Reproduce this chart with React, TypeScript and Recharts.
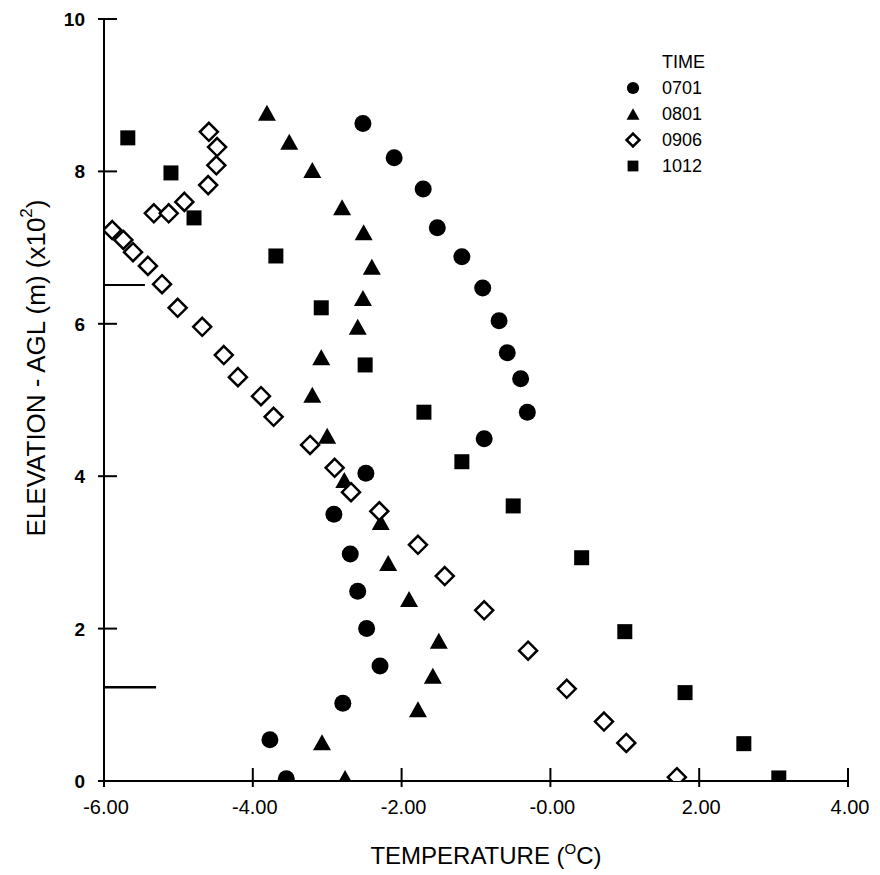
import {
  Legend,
  ReferenceLine,
  Scatter,
  ScatterChart,
  XAxis,
  YAxis,
} from "recharts";

// temperature (deg C) and elevation (x100 m) per sounding time
const temp0701 = [-3.55, -3.77, -2.79, -2.29, -2.47, -2.59, -2.69, -2.91, -2.48, -0.89, -0.31, -0.4, -0.58, -0.69, -0.91, -1.19, -1.52, -1.71, -2.1, -2.52];
const elev0701 = [0.03, 0.54, 1.02, 1.51, 2.0, 2.49, 2.98, 3.5, 4.04, 4.49, 4.84, 5.28, 5.62, 6.04, 6.47, 6.88, 7.26, 7.77, 8.18, 8.63];

const temp0801 = [-2.76, -3.07, -1.78, -1.58, -1.5, -1.9, -2.18, -2.28, -2.77, -3.0, -3.2, -3.08, -2.59, -2.52, -2.4, -2.51, -2.8, -3.2, -3.51, -3.81];
const elev0801 = [0.04, 0.51, 0.94, 1.38, 1.84, 2.39, 2.86, 3.4, 3.95, 4.53, 5.07, 5.56, 5.96, 6.34, 6.75, 7.2, 7.53, 8.02, 8.39, 8.77];

const temp0906 = [1.7, 1.02, 0.72, 0.22, -0.3, -0.89, -1.42, -1.78, -2.3, -2.68, -2.9, -3.23, -3.72, -3.89, -4.2, -4.39, -4.68, -5.01, -5.22, -5.41, -5.61, -5.74, -5.89, -5.33, -5.13, -4.92, -4.6, -4.49, -4.48, -4.59];
const elev0906 = [0.05, 0.5, 0.78, 1.21, 1.71, 2.24, 2.69, 3.1, 3.54, 3.79, 4.11, 4.41, 4.78, 5.05, 5.3, 5.59, 5.96, 6.21, 6.52, 6.76, 6.94, 7.1, 7.23, 7.45, 7.45, 7.6, 7.82, 8.08, 8.32, 8.52];

const temp1012 = [3.07, 2.6, 1.81, 1.0, 0.42, -0.5, -1.19, -1.7, -2.49, -3.08, -3.69, -4.79, -5.1, -5.68];
const elev1012 = [0.04, 0.49, 1.16, 1.96, 2.93, 3.61, 4.19, 4.84, 5.46, 6.21, 6.89, 7.39, 7.98, 8.44];

const xTicks = [-6, -4, -2, 0, 2, 4];
const yTicks = [0, 2, 4, 6, 8, 10];

// two short marks on the elevation axis
const markElev = [6.51, 1.23];
const markEnd = [-5.45, -5.3];

const toPoints = (temps: number[], elevs: number[]) =>
  temps.map((t, i) => ({ temp: t, elev: elevs[i] }));

const FONT = "'Liberation Sans', Arial, Helvetica, sans-serif";

type Kind = "circle" | "triangle" | "diamond" | "square";

function Marker({ kind, cx, cy, s = 1 }: { kind: Kind; cx: number; cy: number; s?: number }) {
  if (kind === "circle") return <circle cx={cx} cy={cy} r={8.5 * s} fill="#000" />;
  if (kind === "triangle") {
    const w = 9 * s;
    const h = 8 * s;
    return <polygon points={`${cx},${cy - h} ${cx + w},${cy + h} ${cx - w},${cy + h}`} fill="#000" />;
  }
  if (kind === "square") {
    const h = 7.5 * s;
    return <rect x={cx - h} y={cy - h} width={2 * h} height={2 * h} fill="#000" />;
  }
  const d = 9 * s;
  return (
    <polygon
      points={`${cx},${cy - d} ${cx + d},${cy} ${cx},${cy + d} ${cx - d},${cy}`}
      fill="#fff"
      stroke="#000"
      strokeWidth={2.5}
    />
  );
}

const series: { name: string; kind: Kind; data: { temp: number; elev: number }[] }[] = [
  { name: "0701", kind: "circle", data: toPoints(temp0701, elev0701) },
  { name: "0801", kind: "triangle", data: toPoints(temp0801, elev0801) },
  { name: "1012", kind: "square", data: toPoints(temp1012, elev1012) },
  { name: "0906", kind: "diamond", data: toPoints(temp0906, elev0906) },
];

const legendOrder = ["0701", "0801", "0906", "1012"];

const XTick = ({ x, y, payload }: any) => (
  <g>
    <line x1={x} y1={y} x2={x} y2={y - 19} stroke="#000" strokeWidth={2} />
    <text x={x + 2} y={y + 27} textAnchor="middle" fontSize={20} fontFamily={FONT} fill="#000">
      {payload.value === 0 ? "-0.00" : Number(payload.value).toFixed(2)}
    </text>
  </g>
);

const YTick = ({ x, y, payload }: any) => (
  <g>
    <line x1={x} y1={y} x2={x + 19} y2={y} stroke="#000" strokeWidth={2} />
    <text x={x - 13} y={y + 7} textAnchor="end" fontSize={19} fontWeight="bold" fontFamily={FONT} fill="#000">
      {payload.value}
    </text>
  </g>
);

function LegendBox() {
  return (
    <div style={{ fontFamily: FONT, fontSize: 18, color: "#000", lineHeight: "26px" }}>
      <div style={{ paddingLeft: 40 }}>TIME</div>
      {legendOrder.map((name) => {
        const s = series.find((d) => d.name === name)!;
        return (
          <div key={name} style={{ display: "flex", alignItems: "center" }}>
            <svg width={30} height={26} style={{ marginRight: 10 }}>
              <Marker kind={s.kind} cx={11} cy={13} s={0.72} />
            </svg>
            <span>{name}</span>
          </div>
        );
      })}
    </div>
  );
}

export default function App() {
  return (
    <div style={{ position: "absolute", left: 0, top: 0, background: "#fff" }}>
      <ScatterChart width={880} height={875} margin={{ top: 19, right: 32, bottom: 34, left: 44 }}>
        <XAxis
          type="number"
          dataKey="temp"
          domain={[-6, 4]}
          ticks={xTicks}
          allowDataOverflow
          height={60}
          axisLine={{ stroke: "#000", strokeWidth: 2 }}
          tickLine={false}
          tickMargin={0}
          tick={<XTick />}
          interval={0}
          label={{
            content: () => (
              <text x={486} y={864} textAnchor="middle" fontSize={24} fontFamily={FONT} fill="#000">
                <tspan>TEMPERATURE (</tspan>
                <tspan fontSize={15} dy={-10}>O</tspan>
                <tspan dy={10}>C)</tspan>
              </text>
            ),
          }}
        />
        <YAxis
          type="number"
          dataKey="elev"
          domain={[0, 10]}
          ticks={yTicks}
          allowDataOverflow
          width={60}
          axisLine={{ stroke: "#000", strokeWidth: 2 }}
          tickLine={false}
          tickMargin={0}
          tick={<YTick />}
          interval={0}
          label={{
            content: () => (
              <text
                x={36}
                y={368}
                transform="rotate(-90, 36, 368)"
                textAnchor="middle"
                dominantBaseline="central"
                fontSize={26}
                fontFamily={FONT}
                fill="#000"
              >
                <tspan>ELEVATION - AGL (m) (x10</tspan>
                <tspan fontSize={17} dy={-10}>2</tspan>
                <tspan dy={10}>)</tspan>
              </text>
            ),
          }}
        />
        {markElev.map((e, i) => (
          <ReferenceLine
            key={i}
            segment={[
              { x: -6, y: e },
              { x: markEnd[i], y: e },
            ]}
            stroke="#000"
            strokeWidth={i === 0 ? 2 : 2.5}
          />
        ))}
        {series.map((s) => (
          <Scatter
            key={s.name}
            name={s.name}
            data={s.data}
            isAnimationActive={false}
            shape={(p: any) => <Marker kind={s.kind} cx={p.cx} cy={p.cy} />}
          />
        ))}
        <Legend
          layout="horizontal"
          verticalAlign="middle"
          align="center"
          content={() => <LegendBox />}
          wrapperStyle={{ position: "absolute", left: 622, top: 49, width: 140 }}
        />
      </ScatterChart>
    </div>
  );
}
